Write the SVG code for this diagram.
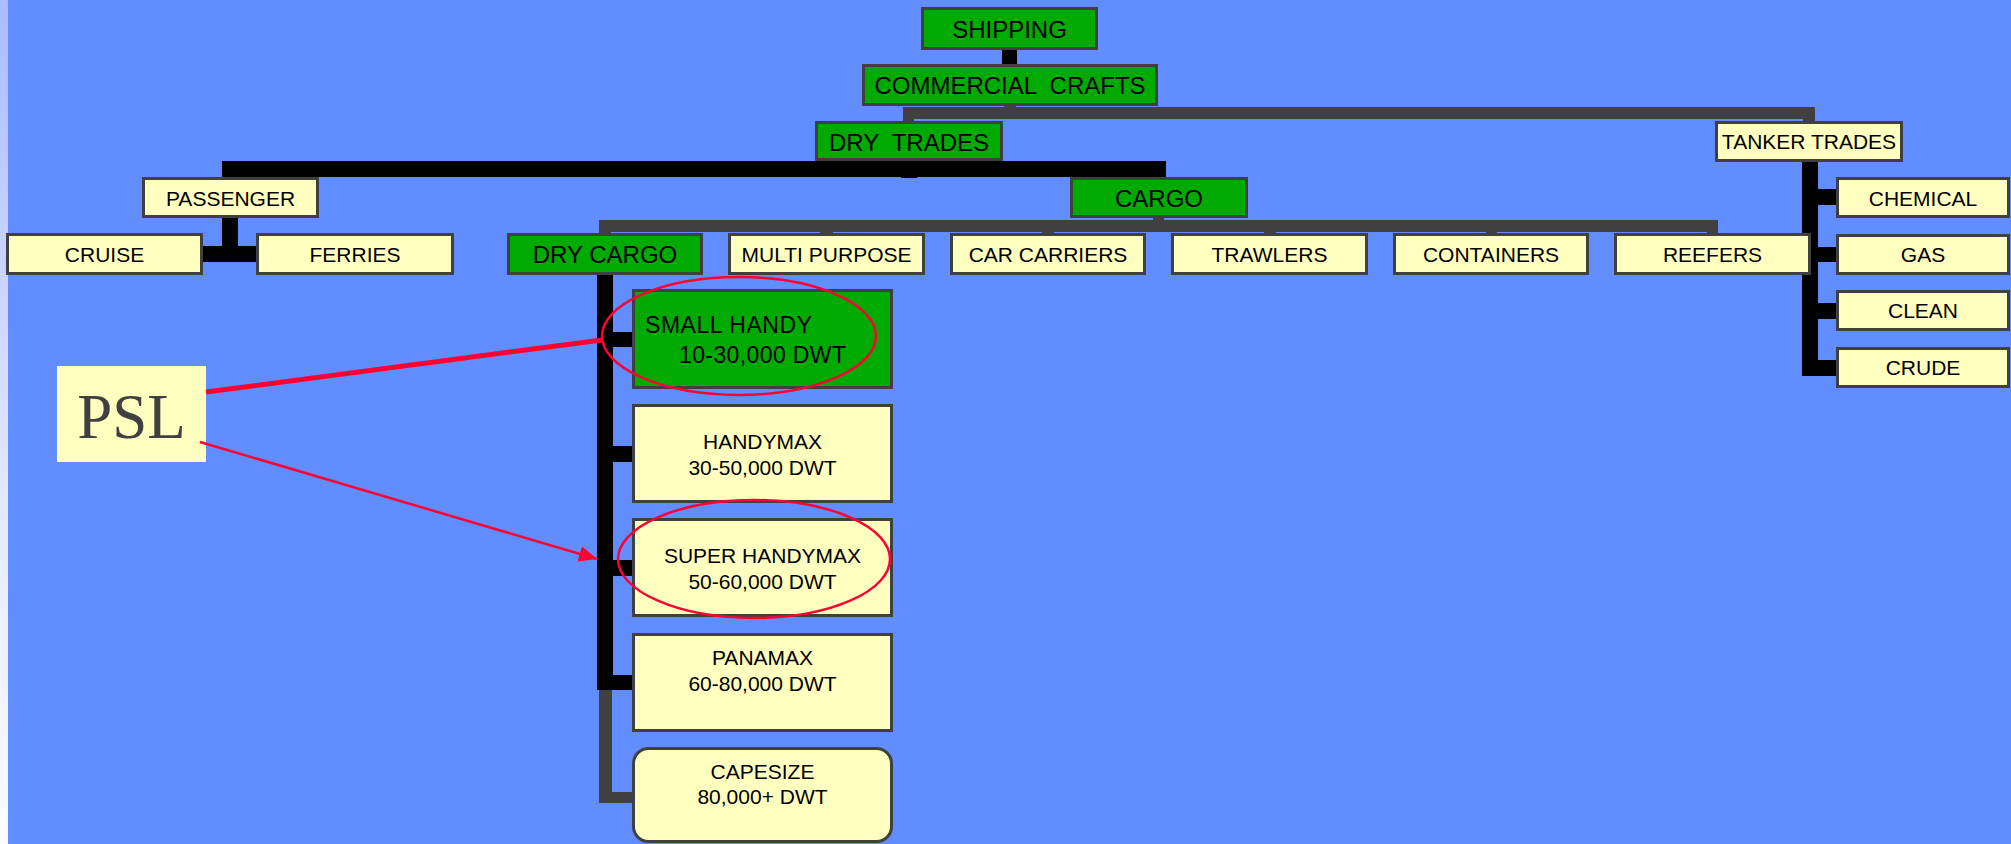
<svg xmlns="http://www.w3.org/2000/svg" width="2011" height="844" viewBox="0 0 2011 844">
<defs>
<linearGradient id="strip" x1="0" y1="0" x2="0" y2="1">
<stop offset="0" stop-color="#aabcff"/>
<stop offset="0.6" stop-color="#e4e9ff"/>
<stop offset="1" stop-color="#fbfcff"/>
</linearGradient>
<marker id="arrow" markerUnits="userSpaceOnUse" markerWidth="20" markerHeight="16" refX="18" refY="8" orient="auto">
<path d="M0,0 L18,8 L0,16 Z" fill="#ff0033"/>
</marker>
<style>
.y{fill:#ffffc0;stroke:#404040;stroke-width:3}
.g{fill:#00aa00;stroke:#404040;stroke-width:3}
.t{font-family:"Liberation Sans",Arial,sans-serif;font-size:21px;fill:#000;text-anchor:middle}
.tl{font-family:"Liberation Sans",Arial,sans-serif;font-size:24px;fill:#000;text-anchor:middle}
.k{fill:#000}
.d{fill:#404040}
.red{stroke:#ff0033;fill:none}
</style>
</defs>
<rect x="0" y="0" width="2011" height="844" fill="#628dff"/>
<rect x="0" y="0" width="8" height="844" fill="url(#strip)"/>

<g id="connectors">
<rect class="k" x="1002" y="50" width="15" height="15"/>
<rect class="d" x="1004" y="105" width="12" height="14"/>
<rect class="d" x="903" y="107" width="912" height="12"/>
<rect class="d" x="903" y="118" width="11" height="5"/>
<rect class="d" x="1803" y="118" width="12" height="5"/>
<rect class="k" x="222" y="161" width="944" height="16"/>
<rect class="k" x="901" y="160" width="16" height="18"/>
<rect class="k" x="222" y="176" width="16" height="86"/>
<rect class="k" x="202" y="246" width="56" height="16"/>
<rect class="d" x="1153" y="217" width="11" height="5"/>
<rect class="d" x="599" y="220" width="1119" height="12"/>
<rect class="d" x="599" y="231" width="12" height="4"/>
<rect class="d" x="820" y="231" width="13" height="4"/>
<rect class="d" x="1042" y="231" width="12" height="4"/>
<rect class="d" x="1264" y="231" width="12" height="4"/>
<rect class="d" x="1486" y="231" width="11" height="4"/>
<rect class="d" x="1707" y="231" width="11" height="4"/>
<rect class="k" x="1802" y="161" width="16" height="215"/>
<rect class="k" x="1816" y="189" width="22" height="16"/>
<rect class="k" x="1816" y="247" width="22" height="15"/>
<rect class="k" x="1816" y="303" width="22" height="16"/>
<rect class="k" x="1816" y="360" width="22" height="16"/>
<rect class="d" x="599" y="688" width="13" height="115"/>
<rect class="d" x="599" y="792" width="35" height="11"/>
<rect class="k" x="597" y="274" width="16" height="416"/>
<rect class="k" x="611" y="332" width="23" height="15"/>
<rect class="k" x="611" y="446" width="23" height="16"/>
<rect class="k" x="611" y="560" width="23" height="16"/>
<rect class="k" x="611" y="675" width="23" height="15"/>
</g>

<g id="shipping"><rect class="g" x="922.5" y="8.5" width="174" height="40"/><text class="tl" x="1009.5" y="38">SHIPPING</text></g>
<g id="commercial-crafts"><rect class="g" x="863.5" y="65.5" width="293" height="39"/><text class="tl" x="1010" y="94" xml:space="preserve">COMMERCIAL  CRAFTS</text></g>
<g id="dry-trades"><rect class="g" x="816.5" y="122.5" width="185" height="37"/><text class="tl" x="909" y="151" xml:space="preserve">DRY  TRADES</text></g>
<g id="tanker-trades"><rect class="y" x="1716.5" y="122.5" width="185" height="38"/><text class="t" x="1809" y="149">TANKER TRADES</text></g>
<g id="passenger"><rect class="y" x="143.5" y="178.5" width="174" height="38"/><text class="t" x="230.5" y="206">PASSENGER</text></g>
<g id="cargo"><rect class="g" x="1071.5" y="178.5" width="175" height="38"/><text class="tl" x="1159" y="207">CARGO</text></g>
<g id="cruise"><rect class="y" x="7.5" y="234.5" width="194" height="39"/><text class="t" x="104.5" y="262">CRUISE</text></g>
<g id="ferries"><rect class="y" x="257.5" y="234.5" width="195" height="39"/><text class="t" x="355" y="262">FERRIES</text></g>
<g id="dry-cargo"><rect class="g" x="508.5" y="234.5" width="193" height="39"/><text class="tl" x="605" y="263">DRY CARGO</text></g>
<g id="multi-purpose"><rect class="y" x="729.5" y="234.5" width="194" height="39"/><text class="t" x="826.5" y="262">MULTI PURPOSE</text></g>
<g id="car-carriers"><rect class="y" x="951.5" y="234.5" width="193" height="39"/><text class="t" x="1048" y="262">CAR CARRIERS</text></g>
<g id="trawlers"><rect class="y" x="1172.5" y="234.5" width="194" height="39"/><text class="t" x="1269.5" y="262">TRAWLERS</text></g>
<g id="containers"><rect class="y" x="1394.5" y="234.5" width="193" height="39"/><text class="t" x="1491" y="262">CONTAINERS</text></g>
<g id="reefers"><rect class="y" x="1615.5" y="234.5" width="194" height="39"/><text class="t" x="1712.5" y="262">REEFERS</text></g>
<g id="chemical"><rect class="y" x="1837.5" y="178.5" width="171" height="38"/><text class="t" x="1923" y="206">CHEMICAL</text></g>
<g id="gas"><rect class="y" x="1837.5" y="235.5" width="171" height="38"/><text class="t" x="1923" y="262">GAS</text></g>
<g id="clean"><rect class="y" x="1837.5" y="291.5" width="171" height="38"/><text class="t" x="1923" y="318">CLEAN</text></g>
<g id="crude"><rect class="y" x="1837.5" y="348.5" width="171" height="38"/><text class="t" x="1923" y="375">CRUDE</text></g>

<g id="small-handy"><rect class="g" x="633.5" y="290.5" width="258" height="97"/>
<text font-family="'Liberation Sans',Arial,sans-serif" font-size="23" fill="#000" x="645" y="333" textLength="167">SMALL HANDY</text>
<text font-family="'Liberation Sans',Arial,sans-serif" font-size="23" fill="#000" x="679" y="363" textLength="167">10-30,000 DWT</text></g>
<g id="handymax"><rect class="y" x="633.5" y="405.5" width="258" height="96"/><text class="t" x="762.5" y="449">HANDYMAX</text><text class="t" x="762.5" y="475">30-50,000 DWT</text></g>
<g id="super-handymax"><rect class="y" x="633.5" y="519.5" width="258" height="96"/><text class="t" x="762.5" y="563">SUPER HANDYMAX</text><text class="t" x="762.5" y="589">50-60,000 DWT</text></g>
<g id="panamax"><rect class="y" x="633.5" y="634.5" width="258" height="96"/><text class="t" x="762.5" y="665">PANAMAX</text><text class="t" x="762.5" y="691">60-80,000 DWT</text></g>
<g id="capesize"><rect class="y" x="633.5" y="748.5" width="258" height="93" rx="15" ry="15"/><text class="t" x="762.5" y="779">CAPESIZE</text><text class="t" x="762.5" y="804">80,000+ DWT</text></g>

<g id="psl"><rect x="57" y="366" width="149" height="96" fill="#ffffc0"/><text x="131.5" y="438" font-family="'Liberation Serif','Times New Roman',serif" font-size="63" fill="#404040" text-anchor="middle">PSL</text></g>

<g id="annotations">
<ellipse class="red" cx="739" cy="336" rx="137" ry="59" stroke-width="2.5"/>
<ellipse class="red" cx="754" cy="559" rx="136" ry="59" stroke-width="2.5"/>
<line class="red" x1="206" y1="392" x2="602" y2="340" stroke-width="5"/>
<line class="red" x1="200" y1="442" x2="597" y2="559" stroke-width="2.5" marker-end="url(#arrow)"/>
</g>
</svg>
